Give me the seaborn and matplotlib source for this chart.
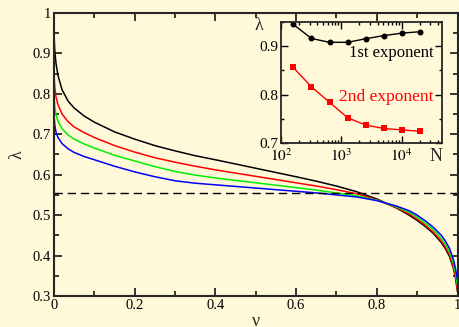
import numpy as np
import pandas as pd
import matplotlib
matplotlib.use("Agg")
import matplotlib.pyplot as plt
import seaborn as sns
from matplotlib.ticker import MultipleLocator, LogLocator, NullFormatter, FixedFormatter, FixedLocator

# ---------------- data ----------------
nu = [0.0, 0.002, 0.005, 0.01, 0.02, 0.035, 0.05, 0.075, 0.1, 0.15, 0.2, 0.25,
      0.3, 0.35, 0.4, 0.5, 0.6, 0.65, 0.7, 0.75, 0.8, 0.85, 0.88, 0.9, 0.92,
      0.94, 0.96, 0.97, 0.98, 0.99, 0.995, 1.0]
lam_black = [0.95, 0.905, 0.875, 0.845, 0.810, 0.782, 0.765, 0.745, 0.730, 0.706, 0.688, 0.672,
             0.659, 0.647, 0.637, 0.616, 0.595, 0.584, 0.572, 0.558, 0.540, 0.517, 0.500, 0.487,
             0.472, 0.455, 0.432, 0.417, 0.398, 0.368, 0.345, 0.31]
lam_red = [0.85, 0.815, 0.792, 0.773, 0.750, 0.731, 0.718, 0.704, 0.692, 0.672, 0.656, 0.642,
           0.631, 0.621, 0.612, 0.596, 0.580, 0.572, 0.563, 0.553, 0.538, 0.518, 0.503, 0.490,
           0.475, 0.458, 0.436, 0.421, 0.402, 0.372, 0.350, 0.315]
lam_green = [0.80, 0.768, 0.748, 0.732, 0.714, 0.698, 0.688, 0.676, 0.666, 0.648, 0.634, 0.620,
             0.608, 0.599, 0.592, 0.580, 0.568, 0.562, 0.555, 0.548, 0.537, 0.520, 0.507, 0.495,
             0.480, 0.464, 0.442, 0.428, 0.409, 0.380, 0.358, 0.325]
lam_blue = [0.75, 0.722, 0.705, 0.692, 0.677, 0.664, 0.655, 0.645, 0.637, 0.621, 0.607, 0.595,
            0.585, 0.579, 0.575, 0.567, 0.559, 0.555, 0.550, 0.545, 0.536, 0.522, 0.511, 0.500,
            0.486, 0.470, 0.450, 0.436, 0.418, 0.390, 0.368, 0.34]
dashed_level = 0.555

N_sizes = [160, 320, 640, 1280, 2560, 5120, 10240, 20480]
first_exp = [0.945, 0.916, 0.908, 0.908, 0.9155, 0.922, 0.927, 0.930]
second_exp = [0.856, 0.816, 0.784, 0.752, 0.737, 0.730, 0.727, 0.724]

x_ticks = [0, 0.2, 0.4, 0.6, 0.8, 1.0]
x_ticklabels = ["0", "0.2", "0.4", "0.6", "0.8", "1"]
y_ticks = [0.3, 0.4, 0.5, 0.6, 0.7, 0.8, 0.9, 1.0]
y_ticklabels = ["0.3", "0.4", "0.5", "0.6", "0.7", "0.8", "0.9", "1"]
in_y_ticks = [0.7, 0.8, 0.9]
in_y_ticklabels = ["0.7", "0.8", "0.9"]

# ---------------- style ----------------
sns.set_style("ticks")
bg = "#FFF9DA"
plt.rcParams["font.family"] = ["Liberation Serif", "DejaVu Serif"]
plt.rcParams["mathtext.fontset"] = "stix"
plt.rcParams["figure.facecolor"] = bg
plt.rcParams["axes.facecolor"] = bg
plt.rcParams["savefig.facecolor"] = bg

fig = plt.figure(figsize=(4.59, 3.27), dpi=100)
ax = fig.add_axes([54/459, 31/327, 403.5/459, 283/327])

df = pd.DataFrame({"nu": nu * 4,
                   "lam": lam_black + lam_red + lam_green + lam_blue,
                   "curve": ["k"] * len(nu) + ["r"] * len(nu) + ["g"] * len(nu) + ["b"] * len(nu)})
palette = {"k": "black", "r": "#ff0000", "g": "#00ee00", "b": "#0000ff"}
sns.lineplot(data=df, x="nu", y="lam", hue="curve", palette=palette, ax=ax,
             legend=False, linewidth=1.1, sort=False, estimator=None)
ax.axhline(dashed_level, color="black", lw=1.0, dashes=(6, 3.5))

ax.set_xlim(0, 1)
ax.set_ylim(0.3, 1.0)
ax.set_xticks(x_ticks)
ax.set_xticklabels(x_ticklabels)
ax.set_yticks(y_ticks)
ax.set_yticklabels(y_ticklabels)
ax.xaxis.set_minor_locator(MultipleLocator(0.1))
ax.yaxis.set_minor_locator(MultipleLocator(0.05))
ax.tick_params(which="both", direction="in", top=True, right=True, labelsize=10.5,
               width=1.1, colors="black", pad=2)
ax.tick_params(which="major", length=6)
ax.tick_params(which="minor", length=3.5)
for s in ax.spines.values():
    s.set_linewidth(1.5)
ax.set_xlabel("ν", fontsize=13, labelpad=1)
ax.set_ylabel("λ", fontsize=13, labelpad=5)

# ---------------- inset ----------------
ins = fig.add_axes([281/459, 184/327, 161/459, 121/327])
ins.set_facecolor(bg)
dfi = pd.DataFrame({"N": N_sizes * 2, "lam": first_exp + second_exp,
                    "which": ["1st"] * len(N_sizes) + ["2nd"] * len(N_sizes)})
sns.lineplot(data=dfi, x="N", y="lam", hue="which", style="which",
             palette={"1st": "black", "2nd": "#ff0000"},
             markers={"1st": "o", "2nd": "s"}, dashes=False,
             markersize=4.3, markeredgewidth=0, linewidth=1.0,
             ax=ins, legend=False)
ins.set_xscale("log")
ins.set_xlim(100, 47000)
ins.set_ylim(0.7, 0.95)
ins.xaxis.set_major_locator(FixedLocator([1e2, 1e3, 1e4]))
ins.xaxis.set_major_formatter(FixedFormatter([r"$10^2$", r"$10^3$", r"$10^4$"]))
ins.xaxis.set_minor_locator(LogLocator(base=10, subs=np.arange(2, 10)))
ins.xaxis.set_minor_formatter(NullFormatter())
ins.set_yticks(in_y_ticks)
ins.set_yticklabels(in_y_ticklabels)
ins.yaxis.set_minor_locator(MultipleLocator(0.05))
ins.tick_params(which="both", direction="in", top=True, right=True, labelsize=11,
                width=1.0, colors="black", pad=2)
ins.tick_params(axis="x", which="both", pad=3)
ins.tick_params(which="major", length=5)
ins.tick_params(which="minor", length=2.5)
for s in ins.spines.values():
    s.set_linewidth(1.3)
ins.set_xlabel("")
ins.set_ylabel("")
ins.text(-0.14, 0.97, "λ", transform=ins.transAxes, fontsize=13, ha="center", va="center")
ins.text(1.0, -0.11, "N", transform=ins.transAxes, fontsize=13, ha="right", va="center")
ins.text(0.95, 0.745, "1st exponent", transform=ins.transAxes, fontsize=12,
         ha="right", va="center", color="black")
ins.text(0.95, 0.38, "2nd exponent", transform=ins.transAxes, fontsize=12.5,
         ha="right", va="center", color="#ff0000")

fig.savefig("out.png", dpi=100)
